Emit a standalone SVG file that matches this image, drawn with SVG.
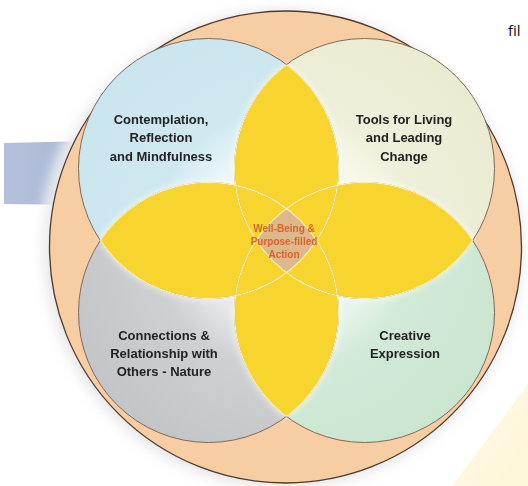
<svg xmlns="http://www.w3.org/2000/svg" width="528" height="486" viewBox="0 0 528 486">
<style>
.lbl{font-family:"Liberation Sans",Arial,sans-serif;font-weight:bold;font-size:13px;fill:#222;text-anchor:middle}
.ctr{font-family:"Liberation Sans",Arial,sans-serif;font-weight:bold;font-size:10px;fill:#d9642c;text-anchor:middle}
.edge{fill:none;stroke:#7d6a5a;stroke-width:1}
.inner{fill:none;stroke:#fbf0b0;stroke-width:1.3}
</style>
<defs>
<circle id="cTLs" cx="208.5" cy="168.5" r="130"/>
<circle id="cTRs" cx="364.5" cy="168.5" r="130"/>
<circle id="cBLs" cx="208.5" cy="312.5" r="130"/>
<circle id="cBRs" cx="364.5" cy="312.5" r="130"/>
<clipPath id="kTL"><use href="#cTLs"/></clipPath>
<clipPath id="kTR"><use href="#cTRs"/></clipPath>
<clipPath id="kBL"><use href="#cBLs"/></clipPath>
<clipPath id="kBR"><use href="#cBRs"/></clipPath>
<clipPath id="notTL"><use href="#cTRs"/><use href="#cBLs"/><use href="#cBRs"/></clipPath>
<clipPath id="notTR"><use href="#cTLs"/><use href="#cBLs"/><use href="#cBRs"/></clipPath>
<clipPath id="notBL"><use href="#cTLs"/><use href="#cTRs"/><use href="#cBRs"/></clipPath>
<clipPath id="notBR"><use href="#cTLs"/><use href="#cTRs"/><use href="#cBLs"/></clipPath>
<radialGradient id="gBlue" gradientUnits="userSpaceOnUse" cx="286.5" cy="240.5" r="240">
<stop offset="0.38" stop-color="#eaf6f9"/><stop offset="0.55" stop-color="#d0e9f1"/><stop offset="1" stop-color="#c9e5ee"/></radialGradient>
<radialGradient id="gCream" gradientUnits="userSpaceOnUse" cx="286.5" cy="240.5" r="240">
<stop offset="0.38" stop-color="#f7f8ea"/><stop offset="0.55" stop-color="#eff0da"/><stop offset="1" stop-color="#eaebd1"/></radialGradient>
<radialGradient id="gGray" gradientUnits="userSpaceOnUse" cx="286.5" cy="240.5" r="240">
<stop offset="0.38" stop-color="#e6e7e8"/><stop offset="0.55" stop-color="#cfd0d1"/><stop offset="1" stop-color="#c3c4c7"/></radialGradient>
<radialGradient id="gGreen" gradientUnits="userSpaceOnUse" cx="286.5" cy="240.5" r="240">
<stop offset="0.38" stop-color="#e8f5eb"/><stop offset="0.55" stop-color="#d2ead8"/><stop offset="1" stop-color="#cae5d0"/></radialGradient>
<linearGradient id="gBand" x1="0" y1="0" x2="1" y2="0">
<stop offset="0" stop-color="#b4c0db"/><stop offset="1" stop-color="#a8b6d4"/></linearGradient>
<linearGradient id="gPale" x1="0" y1="0" x2="1" y2="1">
<stop offset="0" stop-color="#fffbea"/><stop offset="1" stop-color="#fff5d6"/></linearGradient>
<filter id="shadow" x="-20%" y="-20%" width="140%" height="140%">
<feGaussianBlur stdDeviation="7"/></filter>
<filter id="glow" x="-20%" y="-20%" width="140%" height="140%">
<feGaussianBlur in="SourceAlpha" stdDeviation="4" result="b"/>
<feFlood flood-color="#ffffff" flood-opacity="0.85"/>
<feComposite in2="b" operator="in" result="w"/>
<feMerge><feMergeNode in="w"/><feMergeNode in="SourceGraphic"/></feMerge>
</filter>
</defs>
<rect width="528" height="486" fill="#ffffff"/>
<polygon points="4,143 90,141 90,205 4,204" fill="url(#gBand)"/>
<polygon points="528,384 528,486 452,486" fill="url(#gPale)"/>
<text x="508" y="36" font-family="'Open Sans','Liberation Sans',sans-serif" font-size="15" fill="#111">fil</text>
<circle cx="285.5" cy="247" r="244" fill="#ffffff" filter="url(#shadow)"/>
<circle cx="283" cy="249" r="238" fill="#c8c8cc" opacity="0.5" filter="url(#shadow)"/>
<g id="outer"><circle cx="285.5" cy="247" r="236" fill="#f7cea4" stroke="#4e3a2e" stroke-width="1.3"/></g>
<g id="contemplation"><use href="#cTLs" fill="url(#gBlue)"/></g>
<g id="tools"><use href="#cTRs" fill="url(#gCream)"/></g>
<g id="connections"><use href="#cBLs" fill="url(#gGray)"/></g>
<g id="creative"><use href="#cBRs" fill="url(#gGreen)"/></g>
<g id="lenses" filter="url(#glow)">
<g clip-path="url(#kTL)"><use href="#cTRs" fill="#f7d52f"/><use href="#cBLs" fill="#f7d52f"/></g>
<g clip-path="url(#kBR)"><use href="#cTRs" fill="#f7d52f"/><use href="#cBLs" fill="#f7d52f"/></g>
</g>
<g id="center"><g clip-path="url(#kTL)"><g clip-path="url(#kTR)"><g clip-path="url(#kBL)"><use href="#cBRs" fill="#dfb78c"/></g></g></g></g>
<g id="outlines">
<use href="#cTLs" class="edge"/><use href="#cTRs" class="edge"/><use href="#cBLs" class="edge"/><use href="#cBRs" class="edge"/>
<use href="#cTLs" class="inner" clip-path="url(#notTL)"/>
<use href="#cTRs" class="inner" clip-path="url(#notTR)"/>
<use href="#cBLs" class="inner" clip-path="url(#notBL)"/>
<use href="#cBRs" class="inner" clip-path="url(#notBR)"/>
</g>
<g id="labels">
<text class="lbl" x="161" y="124">Contemplation,</text>
<text class="lbl" x="161" y="142">Reflection</text>
<text class="lbl" x="161" y="161">and Mindfulness</text>
<text class="lbl" x="404" y="124">Tools for Living</text>
<text class="lbl" x="404" y="142">and Leading</text>
<text class="lbl" x="404" y="161">Change</text>
<text class="lbl" x="164" y="340">Connections &amp;</text>
<text class="lbl" x="164" y="358">Relationship with</text>
<text class="lbl" x="164" y="376">Others - Nature</text>
<text class="lbl" x="405" y="340">Creative</text>
<text class="lbl" x="405" y="358">Expression</text>
<text class="ctr" x="284" y="232">Well-Being &amp;</text>
<text class="ctr" x="284" y="245">Purpose-filled</text>
<text class="ctr" x="284" y="258">Action</text>
</g>
</svg>
